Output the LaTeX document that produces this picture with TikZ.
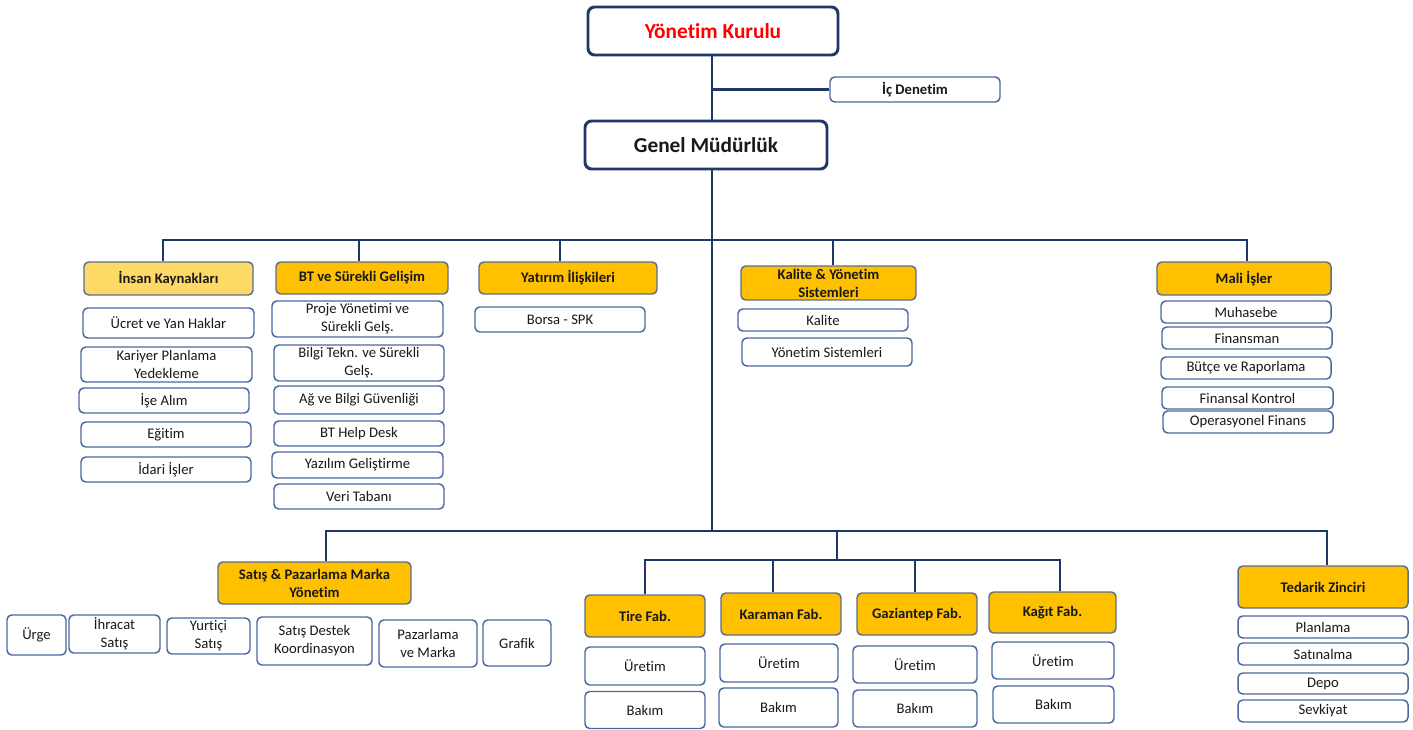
\documentclass[tikz,border=0pt]{standalone}
\usepackage{fontspec}
\setmainfont{Carlito}[Ligatures=NoCommon]
\definecolor{navy}{HTML}{1F3864}
\definecolor{boxline}{HTML}{4A69A0}
\definecolor{headline}{HTML}{5B6F8F}
\definecolor{gold}{HTML}{FFC000}
\definecolor{pale}{HTML}{FFD966}
\begin{document}
\begin{tikzpicture}[x=0.75pt,y=-0.75pt,
    sz/.style 2 args={minimum width=#1*0.75pt,minimum height=#2*0.75pt},
    box/.style={draw,rectangle,rounded corners=3.5pt,inner sep=0pt,align=center,
      font=\fontsize{11}{13.4}\selectfont,text=black!90},
    unit/.style={box,draw=boxline,line width=1.1pt,fill=white},
    head/.style={box,draw=headline,line width=1.1pt,fill=gold,font=\fontsize{11}{13.4}\selectfont\bfseries},
    top/.style={box,draw=navy,line width=2.2pt,rounded corners=5pt,fill=white,font=\fontsize{16}{19}\selectfont\bfseries},
    link/.style={draw=navy,line width=1.6pt}]
  \useasboundingbox (0,0) rectangle (1413,729);
  % top
  \node[top,sz={250}{48},text=red] (yk) at (713,31) {Yönetim Kurulu};
  \node[unit,sz={170}{25},font=\fontsize{11}{13.4}\selectfont\bfseries] (ic) at (915,89.5) {İç Denetim};
  \node[top,sz={242}{48}] (gm) at (706,145) {Genel Müdürlük};
  % first row
  \node[head,sz={169}{33},fill=pale] (ik) at (168.5,278.5) {İnsan Kaynakları};
  \node[head,sz={172}{32}] (bt) at (362,278) {BT ve Sürekli Gelişim};
  \node[head,sz={178}{32}] (yat) at (568,278) {Yatırım İlişkileri};
  \node[head,sz={175}{34}] (kal) at (828.5,283) {Kalite \& Yönetim\\Sistemleri};
  \node[head,sz={174}{33}] (mali) at (1244,278.5) {Mali İşler};
  \node[unit,sz={171}{30}] (ucret) at (168.5,323) {Ücret ve Yan Haklar};
  \node[unit,sz={171}{35}] (kariyer) at (166.5,364.5) {Kariyer Planlama\\Yedekleme};
  \node[unit,sz={170}{25}] (ise) at (164,400.5) {İşe Alım};
  \node[unit,sz={170}{25}] (egitim) at (166,434.5) {Eğitim};
  \node[unit,sz={170}{25}] (idari) at (166,469.5) {İdari İşler};
  \node[unit,sz={171}{36}] (proje) at (357.5,319) {Proje Yönetimi ve\\Sürekli Gelş.};
  \node[unit,sz={170}{36}] (bilgi) at (359,363) {Bilgi Tekn. ve Sürekli\\Gelş.};
  \node[unit,sz={170}{28}] (ag) at (359,400) {Ağ ve Bilgi Güvenliği};
  \node[unit,sz={170}{25}] (help) at (359,433.5) {BT Help Desk};
  \node[unit,sz={171}{26}] (yazilim) at (357.5,465) {Yazılım Geliştirme};
  \node[unit,sz={170}{25}] (veri) at (359,496.5) {Veri Tabanı};
  \node[unit,sz={170}{25}] (borsa) at (560,319.5) {Borsa - SPK};
  \node[unit,sz={170}{22}] (kalite) at (823,320) {Kalite};
  \node[unit,sz={170}{28}] (ysis) at (827,352) {Yönetim Sistemleri};
  \node[unit,sz={170}{22}] (muh) at (1246,312) {Muhasebe};
  \node[unit,sz={170}{22}] (fin) at (1247,338) {Finansman};
  \node[unit,sz={170}{22}] (butce) at (1246,368) {Bütçe ve Raporlama};
  \node[unit,sz={171}{22}] (fkon) at (1247.5,398) {Finansal Kontrol};
  \node[unit,sz={170}{22}] (opf) at (1248,422) {Operasyonel Finans};
  % second row
  \node[head,sz={193}{42}] (satis) at (314.5,583) {Satış \& Pazarlama Marka\\Yönetim};
  \node[unit,sz={59}{40}] (urge) at (36.5,635) {Ürge};
  \node[unit,sz={91}{38}] (ihr) at (114.5,634) {İhracat\\Satış};
  \node[unit,sz={83}{36}] (yurt) at (208.5,636) {Yurtiçi\\Satış};
  \node[unit,sz={115}{48}] (sdk) at (314.5,641) {Satış Destek\\Koordinasyon};
  \node[unit,sz={98}{47}] (paz) at (428,643.5) {Pazarlama\\ve Marka};
  \node[unit,sz={68}{46}] (graf) at (517,643) {Grafik};
  \node[head,sz={120}{42}] (tire) at (645,616) {Tire Fab.};
  \node[head,sz={120}{42}] (kar) at (781,614) {Karaman Fab.};
  \node[head,sz={120}{42}] (gaz) at (917,614) {Gaziantep Fab.};
  \node[head,sz={127}{41}] (kag) at (1052.5,612.5) {Kağıt Fab.};
  \node[unit,sz={120}{38}] (tireu) at (645,666) {Üretim};
  \node[unit,sz={118}{38}] (karu) at (779,663) {Üretim};
  \node[unit,sz={124}{37}] (gazu) at (915,664.5) {Üretim};
  \node[unit,sz={122}{37}] (kagu) at (1053,660.5) {Üretim};
  \node[unit,sz={120}{37}] (tireb) at (645,710) {Bakım};
  \node[unit,sz={119}{39}] (karb) at (778.5,707.5) {Bakım};
  \node[unit,sz={124}{37}] (gazb) at (915,708.5) {Bakım};
  \node[unit,sz={121}{37}] (kagb) at (1053.5,704.5) {Bakım};
  \node[head,sz={170}{42}] (ted) at (1323,587) {Tedarik Zinciri};
  \node[unit,sz={170}{22}] (plan) at (1323,627) {Planlama};
  \node[unit,sz={170}{22}] (satin) at (1323,654) {Satınalma};
  \node[unit,sz={170}{21}] (depo) at (1323,683.5) {Depo};
  \node[unit,sz={170}{22}] (sevk) at (1323,711) {Sevkiyat};
  % connectors
  \coordinate (spine) at (712,90);
  \coordinate (bus) at (712,240);
  \coordinate (hub) at (712,531);
  \coordinate (fabbus) at (837,560);
  \coordinate (ikd) at ([xshift=-4pt]ik.north);
  \coordinate (btd) at ([xshift=-2pt]bt.north);
  \coordinate (yatd) at ([xshift=-6pt]yat.north);
  \coordinate (kald) at ([xshift=3.4pt]kal.north);
  \coordinate (malid) at ([xshift=2.2pt]mali.north);
  \coordinate (satd) at ([xshift=8.6pt]satis.north);
  \coordinate (tedd) at ([xshift=3pt]ted.north);
  \coordinate (tired) at (tire.north);
  \coordinate (kard) at ([xshift=-6pt]kar.north);
  \coordinate (gazd) at ([xshift=-1.5pt]gaz.north);
  \coordinate (kagd) at ([xshift=5.6pt]kag.north);
  \draw[link] (yk.south -| spine) -- (gm.north -| spine);
  \draw[link] (ic.west) -- (ic.west -| spine);
  \draw[link] (gm.south -| spine) -- (hub);
  \draw[link] (ikd) |- (malid |- bus) -- (malid);
  \foreach \d in {btd,yatd,kald}
    \draw[link] (\d) -- (\d |- bus);
  \draw[link] (satd) |- (tedd |- hub) -- (tedd);
  \draw[link] (hub -| fabbus) -- (fabbus);
  \draw[link] (tired) |- (kagd |- fabbus) -- (kagd);
  \foreach \d in {kard,gazd}
    \draw[link] (\d) -- (\d |- fabbus);
\end{tikzpicture}
\end{document}
